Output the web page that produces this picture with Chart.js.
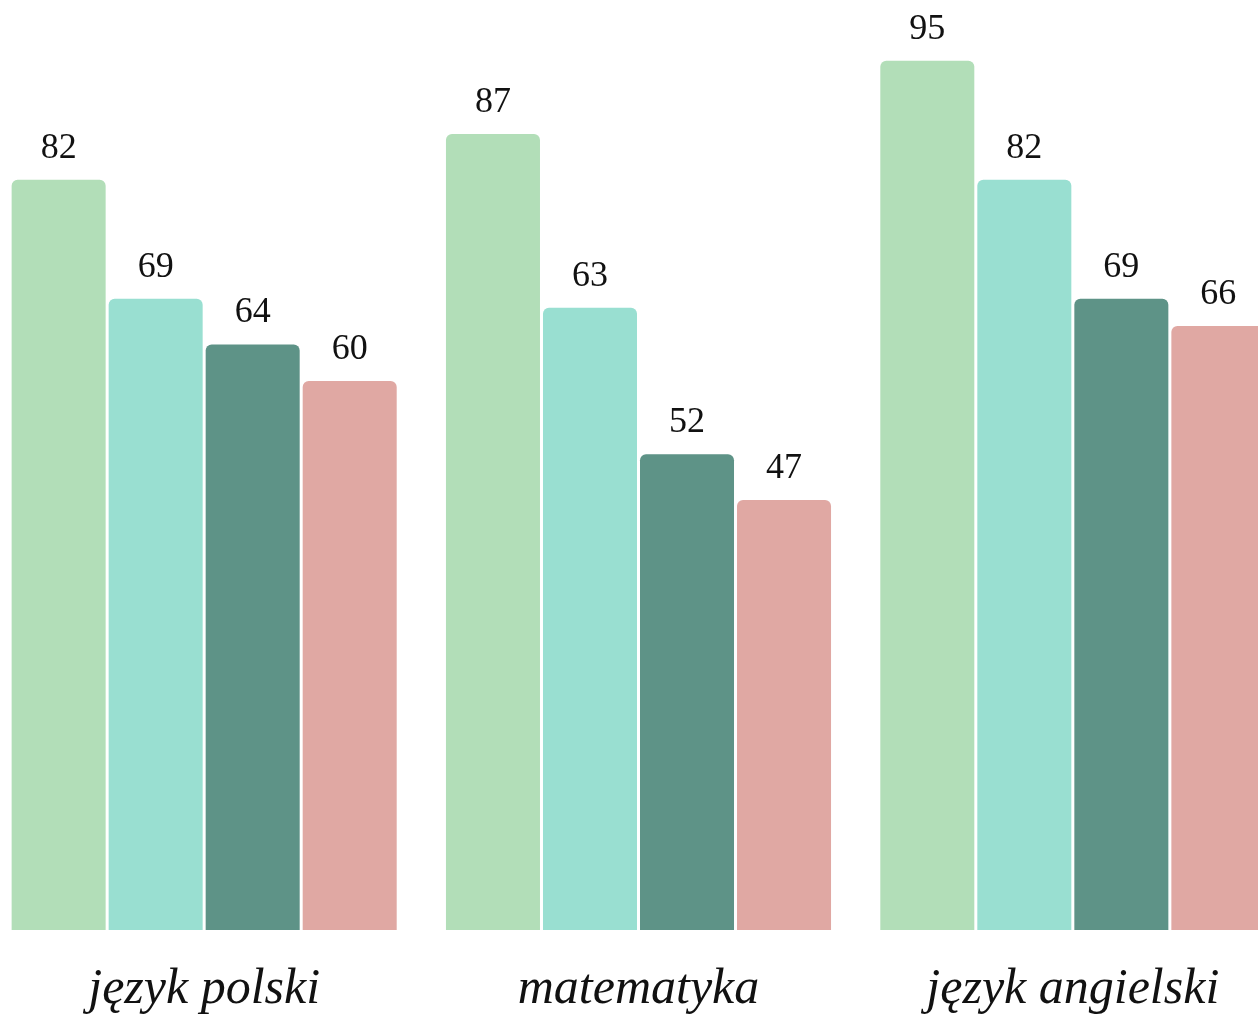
<!DOCTYPE html>
<html>
<head>
<meta charset="utf-8">
<script src="https://cdn.jsdelivr.net/npm/chart.js@4.4.1/dist/chart.umd.min.js"></script>
<style>
  html, body { margin: 0; padding: 0; background: #fff; overflow: hidden; }
  #wrap { position: absolute; left: -13px; top: 0; width: 1303px; height: 1017px; }
</style>
</head>
<body>
<div id="wrap"><canvas id="subjectChart"></canvas></div>
<script>
// == dane == //
const SUBJECTS = ['język polski', 'matematyka', 'język angielski'];
// wysokości słupków
const SERIES_A = [82, 87, 95];
const SERIES_B = [69, 68, 82];
const SERIES_C = [64, 52, 69];
const SERIES_D = [60, 47, 66];
// podpisy nad słupkami (tak jak na obrazku)
const LABELS_A = ['82', '87', '95'];
const LABELS_B = ['69', '63', '82'];
const LABELS_C = ['64', '52', '69'];
const LABELS_D = ['60', '47', '66'];
const Y_MAX = 100;

const COLORS = ['#b2deb8', '#99dfd1', '#5e9387', '#e0a8a3'];

// wartości nad słupkami
const valueLabels = {
  id: 'valueLabels',
  afterDatasetsDraw(chart) {
    const ctx = chart.ctx;
    ctx.save();
    ctx.font = '36px "Liberation Serif", serif';
    ctx.fillStyle = '#111';
    ctx.textAlign = 'center';
    ctx.textBaseline = 'alphabetic';
    chart.data.datasets.forEach((ds, i) => {
      chart.getDatasetMeta(i).data.forEach((bar, j) => {
        ctx.fillText(ds.valueLabels[j], bar.x, bar.y - 22);
      });
    });
    ctx.restore();
  }
};

const makeSet = (data, labels, color) => ({
  data: data,
  valueLabels: labels,
  backgroundColor: color,
  borderRadius: { topLeft: 6, topRight: 6 },
  borderSkipped: 'bottom',
  barPercentage: 0.969,
  categoryPercentage: 0.8935
});

new Chart(document.getElementById('subjectChart'), {
  type: 'bar',
  data: {
    labels: SUBJECTS,
    datasets: [
      makeSet(SERIES_A, LABELS_A, COLORS[0]),
      makeSet(SERIES_B, LABELS_B, COLORS[1]),
      makeSet(SERIES_C, LABELS_C, COLORS[2]),
      makeSet(SERIES_D, LABELS_D, COLORS[3])
    ]
  },
  options: {
    responsive: true,
    maintainAspectRatio: false,
    animation: false,
    layout: { padding: { top: 15, left: 0, right: 0, bottom: 0 } },
    plugins: {
      legend: { display: false },
      tooltip: { enabled: false }
    },
    scales: {
      x: {
        grid: { display: false, drawTicks: false },
        border: { display: false },
        ticks: {
          color: '#111',
          padding: 30,
          font: { family: '"Liberation Serif", serif', style: 'italic', size: 50 }
        },
        afterFit(scale) { scale.height = 87; }
      },
      y: {
        display: false,
        min: 0,
        max: Y_MAX
      }
    }
  },
  plugins: [valueLabels]
});
</script>
</body>
</html>
